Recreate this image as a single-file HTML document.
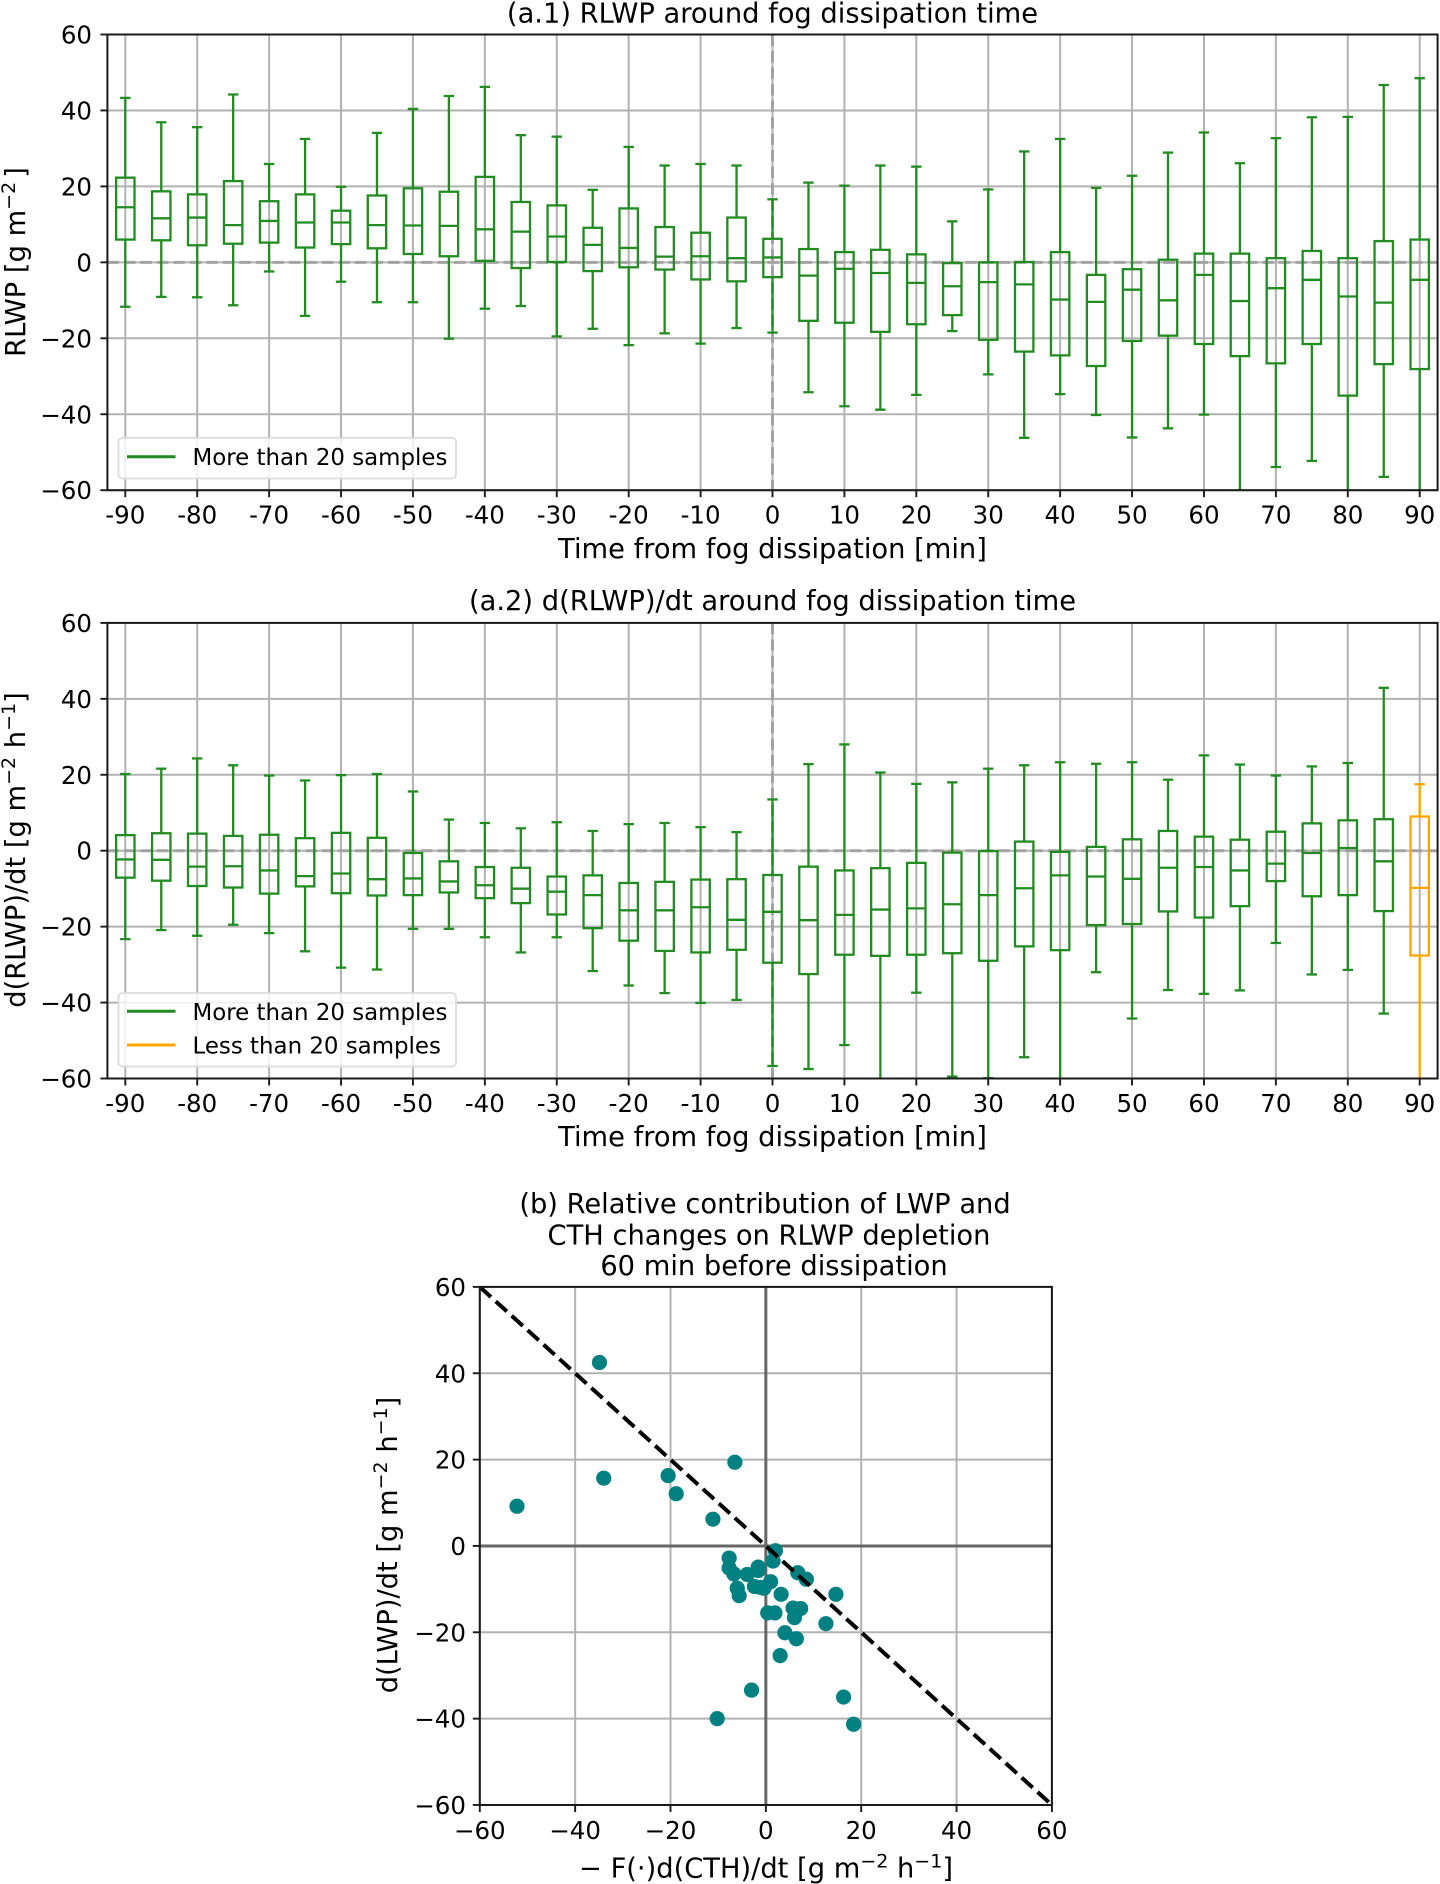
<!DOCTYPE html>
<html lang="en">
<head>
<meta charset="utf-8">
<title>Fog dissipation RLWP charts</title>
<style>
html,body{margin:0;padding:0;background:#fff;}
svg{display:block;font-family:"DejaVu Sans","Liberation Sans",sans-serif;fill:#000;}
</style>
</head>
<body>
<svg id="figure" xmlns="http://www.w3.org/2000/svg" width="1440" height="1884" viewBox="0 0 1440 1884">
  <defs>
    <clipPath id="clip-a1"><rect x="107.4" y="34.5" width="1330.2" height="455.7"/></clipPath>
    <clipPath id="clip-a2"><rect x="107.4" y="622.9" width="1330.2" height="455.6"/></clipPath>
    <clipPath id="clip-b"><rect x="479.8" y="1286.9" width="572.1" height="518.1"/></clipPath>
  </defs>
  <rect width="1440" height="1884" fill="#fff"/>
  <g id="panel-a1"></g>
  <g id="panel-a2"></g>
  <g id="panel-b"></g>

  <text x="772.5" y="22.5" text-anchor="middle" font-size="27.3">(a.1) RLWP around fog dissipation time</text>
  <text x="772.5" y="558" text-anchor="middle" font-size="27.3">Time from fog dissipation [min]</text>
  <text transform="translate(25,262) rotate(-90)" text-anchor="middle" font-size="27.3">RLWP [g m<tspan font-size="19" dy="-10">−2</tspan><tspan dy="10" dx="4">]</tspan></text>

  <text x="772.5" y="610" text-anchor="middle" font-size="27.3">(a.2) d(RLWP)/dt around fog dissipation time</text>
  <text x="772.5" y="1146" text-anchor="middle" font-size="27.3">Time from fog dissipation [min]</text>
  <text transform="translate(25,850) rotate(-90)" text-anchor="middle" font-size="27.3">d(RLWP)/dt [g m<tspan font-size="19" dy="-10">−2</tspan><tspan dy="10"> h</tspan><tspan font-size="19" dy="-10">−1</tspan><tspan dy="10">]</tspan></text>

  <text x="765" y="1213" text-anchor="middle" font-size="27.3">(b) Relative contribution of LWP and</text>
  <text x="769" y="1244.5" text-anchor="middle" font-size="27.3">CTH changes on RLWP depletion</text>
  <text x="774" y="1275" text-anchor="middle" font-size="27.3">60 min before dissipation</text>
  <text x="766" y="1877.5" text-anchor="middle" font-size="27.3">− F(·)d(CTH)/dt [g m<tspan font-size="19" dy="-10">−2</tspan><tspan dy="10"> h</tspan><tspan font-size="19" dy="-10">−1</tspan><tspan dy="10">]</tspan></text>
  <text transform="translate(397,1545) rotate(-90)" text-anchor="middle" font-size="27.3">d(LWP)/dt [g m<tspan font-size="19" dy="-10">−2</tspan><tspan dy="10"> h</tspan><tspan font-size="19" dy="-10">−1</tspan><tspan dy="10">]</tspan></text>
</svg>

<script>
// ---- shared axis data ----
var boxTimes = [-90,-85,-80,-75,-70,-65,-60,-55,-50,-45,-40,-35,-30,-25,-20,-15,-10,-5,0,5,10,15,20,25,30,35,40,45,50,55,60,65,70,75,80,85,90];
var xTickValues = [-90,-80,-70,-60,-50,-40,-30,-20,-10,0,10,20,30,40,50,60,70,80,90];
var yTickValues = [60,40,20,0,-20,-40,-60];
var scatterTickValues = [-60,-40,-20,0,20,40,60];

// ---- panel a.1: RLWP ----
var rlwpWhiskerHigh = [43.3,36.9,35.6,44.2,25.9,32.5,19.9,34.1,40.4,43.8,46.2,33.5,33.1,19.1,30.4,25.5,25.9,25.5,16.6,21.0,20.2,25.5,25.2,10.8,19.2,29.2,32.5,19.6,22.8,28.9,34.2,26.1,32.7,38.2,38.3,46.7,48.5];
var rlwpQ3 = [22.3,18.7,17.9,21.4,16.1,17.9,13.6,17.6,19.5,18.6,22.5,15.9,15.0,9.1,14.2,9.3,7.8,11.8,6.2,3.5,2.7,3.3,2.1,-0.2,0.0,0.1,2.7,-3.3,-1.8,0.7,2.3,2.3,1.1,3.0,1.1,5.6,6.0];
var rlwpMedian = [14.5,11.6,11.8,9.8,10.9,10.5,10.5,9.8,9.7,9.6,8.7,8.1,6.8,4.6,3.8,1.5,1.6,1.1,1.3,-3.5,-1.7,-2.8,-5.4,-6.3,-5.2,-5.8,-9.8,-10.4,-7.2,-10.0,-3.3,-10.2,-6.8,-4.6,-9.0,-10.6,-4.6];
var rlwpQ1 = [6.0,5.8,4.5,4.9,5.2,3.9,4.8,3.7,2.2,1.6,0.4,-1.5,0.1,-2.3,-1.3,-1.9,-4.5,-5.0,-3.9,-15.4,-15.9,-18.3,-16.3,-13.9,-20.4,-23.5,-24.5,-27.3,-20.7,-19.3,-21.5,-24.7,-26.6,-21.5,-35.1,-26.8,-28.1];
var rlwpWhiskerLow = [-11.7,-9.1,-9.2,-11.3,-2.4,-14.1,-5.1,-10.5,-10.5,-20.1,-12.2,-11.5,-19.5,-17.5,-21.8,-18.7,-21.4,-17.3,-18.5,-34.2,-37.9,-38.8,-34.9,-18.1,-29.5,-46.2,-34.7,-40.2,-46.1,-43.7,-40.1,-63,-53.9,-52.3,-65,-56.5,-64];

// ---- panel a.2: d(RLWP)/dt ----
var tendencyWhiskerHigh = [20.2,21.6,24.3,22.5,19.8,18.5,19.9,20.2,15.6,8.2,7.3,5.9,7.5,5.2,7.0,7.3,6.2,4.9,13.5,22.8,28.0,20.6,17.6,18.0,21.6,22.5,23.3,22.9,23.3,18.7,25.1,22.7,19.8,22.2,23.1,42.9,17.5];
var tendencyQ3 = [4.1,4.6,4.5,3.9,4.2,3.3,4.7,3.4,-0.6,-2.8,-4.3,-4.5,-6.8,-6.5,-8.5,-8.2,-7.6,-7.5,-6.4,-4.2,-5.2,-4.6,-3.2,-0.5,-0.1,2.4,-0.3,1.0,3.0,5.2,3.7,2.9,5.0,7.2,8.0,8.3,9.0];
var tendencyMedian = [-2.3,-2.4,-4.2,-4.1,-5.2,-6.7,-6.0,-7.5,-7.3,-8.1,-9.1,-10.0,-10.8,-11.7,-15.7,-15.7,-14.9,-18.2,-16.1,-18.3,-16.9,-15.5,-15.2,-14.1,-11.7,-9.9,-6.5,-6.8,-7.4,-4.5,-4.3,-5.2,-3.4,-0.6,0.7,-2.8,-9.8];
var tendencyQ1 = [-7.1,-7.9,-9.3,-9.7,-11.3,-9.4,-11.2,-11.8,-11.7,-11.0,-12.5,-13.8,-16.8,-20.4,-23.7,-26.4,-26.8,-26.1,-29.5,-32.5,-27.4,-27.7,-27.4,-27.0,-29.0,-25.2,-26.2,-19.6,-19.3,-16.0,-17.6,-14.6,-8.0,-12.0,-11.7,-15.9,-27.6];
var tendencyWhiskerLow = [-23.3,-20.9,-22.4,-19.5,-21.7,-26.5,-30.8,-31.3,-20.6,-20.6,-22.8,-26.8,-22.8,-31.7,-35.5,-37.5,-40.1,-39.3,-56.7,-57.5,-51.2,-63,-37.4,-59.5,-59.9,-54.4,-62,-32.0,-44.2,-36.7,-37.7,-36.8,-24.3,-32.6,-31.4,-42.9,-62];
var tendencyFewSampleTimes = [90];

// ---- panel b: scatter ----
var cthContribution = [-34.9,-34.0,-52.2,-20.5,-18.8,-6.5,-11.1,2.0,1.5,-7.7,-7.7,-6.7,-3.9,-1.6,-1.6,1.0,-2.4,-1.1,-0.4,-6.0,-5.6,3.2,6.7,8.5,14.7,5.7,7.3,6.0,0.4,1.9,12.6,4.0,6.4,3.0,-3.0,16.3,-10.2,18.4];
var lwpTendency = [42.5,15.7,9.2,16.3,12.1,19.4,6.2,-1.1,-3.5,-2.8,-5.1,-6.5,-6.6,-4.9,-5.7,-8.3,-9.4,-9.6,-9.8,-9.8,-11.5,-11.2,-6.2,-7.7,-11.2,-14.4,-14.5,-16.6,-15.5,-15.5,-18.0,-20.1,-21.5,-25.4,-33.4,-35.0,-40.0,-41.3];
var referenceLineX = [-60,60];
var referenceLineY = [60,-60];

var SVG_NS = 'http://www.w3.org/2000/svg';
var GREEN = '#228b22';
var ORANGE = '#ffa500';
var GRID = '#b2b2b2';

function node(parent, tag, props) {
  var el = document.createElementNS(SVG_NS, tag);
  for (var k in props) { el.setAttribute(k, props[k]); }
  parent.appendChild(el);
  return el;
}
function linear(d0, d1, r0, r1) {
  return function (v) { return r0 + (v - d0) * (r1 - r0) / (d1 - d0); };
}
function fmtY(v) { return v < 0 ? '\u2212' + Math.abs(v) : String(v); }

function drawBoxPanel(root, cfg) {
  var xScale = linear(-90, 90, 125.3, 1419.7);
  var yScale = linear(-60, 60, cfg.bottom, cfg.top);
  var i;

  // grid
  xTickValues.forEach(function (t) {
    var gridV = node(root, 'line', {x1: xScale(t), x2: xScale(t), y1: cfg.top, y2: cfg.bottom, stroke: GRID, 'stroke-width': 2});
    
    
  });
  yTickValues.forEach(function (t) {
    var gridH = node(root, 'line', {x1: 107.4, x2: 1437.6, y1: yScale(t), y2: yScale(t), stroke: GRID, 'stroke-width': 2});
    
    
  });

  // zero reference lines
  var zeroH = node(root, 'line', {x1: 107.4, x2: 1437.6, y1: yScale(0), y2: yScale(0), stroke: '#a3a3a3', 'stroke-width': 3, 'stroke-dasharray': '11.5 5'});
  
  
  var zeroV = node(root, 'line', {x1: xScale(0), x2: xScale(0), y1: cfg.top, y2: cfg.bottom, stroke: '#a3a3a3', 'stroke-width': 3, 'stroke-dasharray': '11.5 5'});
  
  

  // boxes
  var marks = node(root, 'g', {'clip-path': 'url(#' + cfg.clip + ')', fill: 'none', 'stroke-width': 2.3});
  
  
  for (i = 0; i < boxTimes.length; i++) {
    var t = boxTimes[i];
    var cx = xScale(t);
    var few = cfg.few.indexOf(t) >= 0;
    var col = few ? ORANGE : GREEN;
    var hw = 9.2, cap = 5.2;
    var g = node(marks, 'g', {stroke: col});
    
    
    var yHi = yScale(cfg.high[i]), yQ3 = yScale(cfg.q3[i]), yMed = yScale(cfg.med[i]), yQ1 = yScale(cfg.q1[i]), yLo = yScale(cfg.low[i]);

    var whiskerUp = node(g, 'line', {x1: cx, x2: cx, y1: yHi, y2: yQ3});
    
    
    var whiskerDown = node(g, 'line', {x1: cx, x2: cx, y1: yQ1, y2: yLo});
    
    
    var capUp = node(g, 'line', {x1: cx - cap, x2: cx + cap, y1: yHi, y2: yHi});
    
    
    var capDown = node(g, 'line', {x1: cx - cap, x2: cx + cap, y1: yLo, y2: yLo});
    
    
    var rect = node(g, 'rect', {x: cx - hw, y: yQ3, width: hw * 2, height: yQ1 - yQ3});
    
    
    var medLine = node(g, 'line', {x1: cx - hw, x2: cx + hw, y1: yMed, y2: yMed});
    
    
  }

  // frame
  var frame = node(root, 'rect', {x: 107.4, y: cfg.top, width: 1330.2, height: cfg.bottom - cfg.top, fill: 'none', stroke: '#1a1a1a', 'stroke-width': 2});
  
  

  // ticks
  xTickValues.forEach(function (v) {
    var tick = node(root, 'line', {x1: xScale(v), x2: xScale(v), y1: cfg.bottom, y2: cfg.bottom + 7, stroke: '#1a1a1a', 'stroke-width': 1.9});
    
    
    var label = node(root, 'text', {x: xScale(v), y: cfg.bottom + 33.5, 'text-anchor': 'middle', 'font-size': 24.5});
    
    
    label.textContent = String(v);
  });
  yTickValues.forEach(function (v) {
    var tick = node(root, 'line', {x1: 100.4, x2: 107.4, y1: yScale(v), y2: yScale(v), stroke: '#1a1a1a', 'stroke-width': 1.9});
    
    
    var label = node(root, 'text', {x: 92, y: yScale(v) + 9, 'text-anchor': 'end', 'font-size': 24.5});
    
    
    label.textContent = fmtY(v);
  });

  // legend
  var legend = node(root, 'g', {});
  
  
  var legendBox = node(legend, 'rect', {x: 118.5, y: cfg.legendTop, width: 337.5, height: cfg.legendHeight, rx: 4, fill: 'rgba(255,255,255,0.8)', stroke: '#dcdcdc', 'stroke-width': 1.8});
  
  
  cfg.legendEntries.forEach(function (entry) {
    var key = node(legend, 'line', {x1: 127, x2: 175.5, y1: entry.y, y2: entry.y, stroke: entry.color, 'stroke-width': 3});
    
    
    var text = node(legend, 'text', {x: 192.5, y: entry.y + 8.5, 'font-size': 22.9});
    
    
    text.textContent = entry.label;
  });
}

drawBoxPanel(document.getElementById('panel-a1'), {
  top: 34.5, bottom: 490.2, clip: 'clip-a1', few: [],
  high: rlwpWhiskerHigh, q3: rlwpQ3, med: rlwpMedian, q1: rlwpQ1, low: rlwpWhiskerLow,
  legendTop: 437.8, legendHeight: 40.7,
  legendEntries: [{y: 456.7, color: GREEN, label: 'More than 20 samples'}]
});
drawBoxPanel(document.getElementById('panel-a2'), {
  top: 622.9, bottom: 1078.5, clip: 'clip-a2', few: tendencyFewSampleTimes,
  high: tendencyWhiskerHigh, q3: tendencyQ3, med: tendencyMedian, q1: tendencyQ1, low: tendencyWhiskerLow,
  legendTop: 993, legendHeight: 73.5,
  legendEntries: [{y: 1011.3, color: GREEN, label: 'More than 20 samples'}, {y: 1045, color: ORANGE, label: 'Less than 20 samples'}]
});

(function drawScatter() {
  var root = document.getElementById('panel-b');
  var L = 479.8, R = 1051.9, T = 1286.9, B = 1805;
  var xScale = linear(-60, 60, L, R);
  var yScale = linear(-60, 60, B, T);

  scatterTickValues.forEach(function (v) {
    var gridV = node(root, 'line', {x1: xScale(v), x2: xScale(v), y1: T, y2: B, stroke: GRID, 'stroke-width': 2});
    
    
    var gridH = node(root, 'line', {x1: L, x2: R, y1: yScale(v), y2: yScale(v), stroke: GRID, 'stroke-width': 2});
    
    
  });

  var axisV = node(root, 'line', {x1: xScale(0), x2: xScale(0), y1: T, y2: B, stroke: '#666', 'stroke-width': 3});
  
  
  var axisH = node(root, 'line', {x1: L, x2: R, y1: yScale(0), y2: yScale(0), stroke: '#666', 'stroke-width': 3});
  
  

  var marks = node(root, 'g', {'clip-path': 'url(#clip-b)'});
  
  
  for (var i = 0; i < cthContribution.length; i++) {
    var dot = node(marks, 'circle', {cx: xScale(cthContribution[i]), cy: yScale(lwpTendency[i]), r: 7.6, fill: '#008080'});
    
    
  }

  var ref = node(marks, 'line', {x1: xScale(referenceLineX[0]), y1: yScale(referenceLineY[0]), x2: xScale(referenceLineX[1]), y2: yScale(referenceLineY[1]), stroke: '#000', 'stroke-width': 4, 'stroke-dasharray': '15 6.5'});
  
  

  var frame = node(root, 'rect', {x: L, y: T, width: R - L, height: B - T, fill: 'none', stroke: '#1a1a1a', 'stroke-width': 2});
  
  

  scatterTickValues.forEach(function (v) {
    var tickX = node(root, 'line', {x1: xScale(v), x2: xScale(v), y1: B, y2: B + 7, stroke: '#1a1a1a', 'stroke-width': 1.9});
    
    
    var labelX = node(root, 'text', {x: xScale(v), y: 1839, 'text-anchor': 'middle', 'font-size': 24.5});
    
    
    labelX.textContent = fmtY(v);
    var tickY = node(root, 'line', {x1: L - 7, x2: L, y1: yScale(v), y2: yScale(v), stroke: '#1a1a1a', 'stroke-width': 1.9});
    
    
    var labelY = node(root, 'text', {x: 466, y: yScale(v) + 9, 'text-anchor': 'end', 'font-size': 24.5});
    
    
    labelY.textContent = fmtY(v);
  });
})();
</script>
</body>
</html>
